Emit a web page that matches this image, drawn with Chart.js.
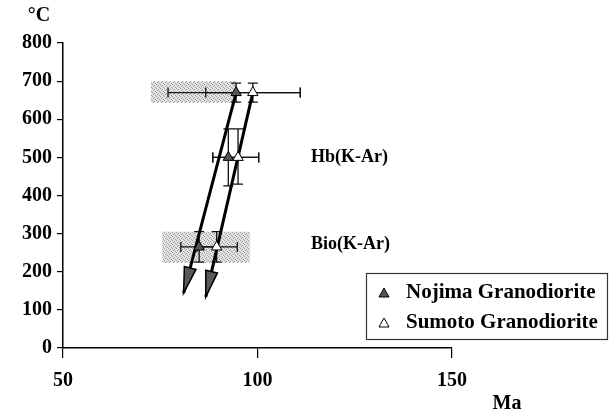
<!DOCTYPE html>
<html>
<head>
<meta charset="utf-8">
<script src="https://cdn.jsdelivr.net/npm/chart.js@4"></script>
<style>
  body { margin: 0; background: #fff; }
  #wrap { width: 614px; height: 415px; }
</style>
</head>
<body>
<div id="wrap"><canvas id="chart" width="614" height="415"></canvas></div>
<script>
// values (Ma, °C)
const nojimaMa = [94.5, 92.5, 85];
const nojimaTemp = [670, 500, 265];
const nojimaMaLo = [77, 88.5, 80.3];
const nojimaMaHi = [111, 100.3, 89.5];
const nojimaTempLo = [645, 425, 225];
const nojimaTempHi = [695, 575, 305];

const sumotoMa = [98.8, 95, 89.5];
const sumotoTemp = [670, 500, 265];
const sumotoMaLo = [86.7, 88.5, 84.5];
const sumotoMaHi = [111, 100.3, 94.8];
const sumotoTempLo = [645, 430, 225];
const sumotoTempHi = [695, 575, 305];

// arrow tips (end of cooling path)
const nojimaTip = [81, 144];
const sumotoTip = [86.7, 134];

// shaded ranges [MaLo, MaHi, TempLo, TempHi]
const topBand = [72.6, 94.5, 643, 700];
const bioBand = [75.5, 98, 223, 305];

const xTicks = [50, 100, 150];
const yTicks = [0, 100, 200, 300, 400, 500, 600, 700, 800];

const serif = '"Liberation Serif", "DejaVu Serif", serif';

function toPoints(xs, ys) {
  return xs.map((x, i) => ({ x: x, y: ys[i] }));
}

// stippled grey like the scanned screen tone
function stipple(ctx) {
  const c = document.createElement('canvas');
  c.width = 4;
  c.height = 4;
  const p = c.getContext('2d');
  p.fillStyle = '#e4e4e4';
  p.fillRect(0, 0, 4, 4);
  p.fillStyle = '#9a9a9a';
  p.fillRect(0, 0, 1, 1);
  p.fillRect(2, 1, 1, 1);
  p.fillRect(1, 2, 1, 1);
  p.fillRect(3, 3, 1, 1);
  return ctx.createPattern(c, 'repeat');
}

const bandsPlugin = {
  id: 'bands',
  beforeDatasetsDraw(chart) {
    const { ctx, scales: { x, y } } = chart;
    ctx.save();
    ctx.fillStyle = stipple(ctx);
    for (const b of [topBand, bioBand]) {
      const x0 = x.getPixelForValue(b[0]);
      const x1 = x.getPixelForValue(b[1]);
      const y0 = y.getPixelForValue(b[3]);
      const y1 = y.getPixelForValue(b[2]);
      ctx.fillRect(x0, y0, x1 - x0, y1 - y0);
    }
    ctx.restore();
  },
};

function drawErrors(ctx, x, y, ma, t, maLo, maHi, tLo, tHi) {
  const cap = 5;
  for (let i = 0; i < ma.length; i++) {
    const px = x.getPixelForValue(ma[i]);
    const py = y.getPixelForValue(t[i]);
    const l = x.getPixelForValue(maLo[i]);
    const r = x.getPixelForValue(maHi[i]);
    const top = y.getPixelForValue(tHi[i]);
    const bot = y.getPixelForValue(tLo[i]);
    ctx.beginPath();
    ctx.moveTo(l, py); ctx.lineTo(r, py);
    ctx.moveTo(l, py - cap); ctx.lineTo(l, py + cap);
    ctx.moveTo(r, py - cap); ctx.lineTo(r, py + cap);
    ctx.moveTo(px, top); ctx.lineTo(px, bot);
    ctx.moveTo(px - cap, top); ctx.lineTo(px + cap, top);
    ctx.moveTo(px - cap, bot); ctx.lineTo(px + cap, bot);
    ctx.stroke();
  }
}

const errorPlugin = {
  id: 'errors',
  beforeDatasetsDraw(chart) {
    const { ctx, scales: { x, y } } = chart;
    ctx.save();
    ctx.strokeStyle = '#111';
    ctx.lineWidth = 1.3;
    drawErrors(ctx, x, y, nojimaMa, nojimaTemp, nojimaMaLo, nojimaMaHi, nojimaTempLo, nojimaTempHi);
    drawErrors(ctx, x, y, sumotoMa, sumotoTemp, sumotoMaLo, sumotoMaHi, sumotoTempLo, sumotoTempHi);
    ctx.restore();
  },
};

const arrowPlugin = {
  id: 'arrows',
  afterDatasetsDraw(chart) {
    const { ctx, scales: { x, y } } = chart;
    ctx.save();
    const paths = [
      [nojimaMa[0], nojimaTemp[0], nojimaTip],
      [sumotoMa[0], sumotoTemp[0], sumotoTip],
    ];
    for (const [ma, t, tip] of paths) {
      const x0 = x.getPixelForValue(ma);
      const y0 = y.getPixelForValue(t);
      const x1 = x.getPixelForValue(tip[0]);
      const y1 = y.getPixelForValue(tip[1]);
      const ang = Math.atan2(y1 - y0, x1 - x0);
      const len = 26;
      const half = 6;
      const bx = x1 - len * Math.cos(ang);
      const by = y1 - len * Math.sin(ang);
      ctx.beginPath();
      ctx.moveTo(x1, y1);
      ctx.lineTo(bx + half * Math.sin(ang), by - half * Math.cos(ang));
      ctx.lineTo(bx - half * Math.sin(ang), by + half * Math.cos(ang));
      ctx.closePath();
      ctx.fillStyle = '#5a5a5a';
      ctx.fill();
      ctx.strokeStyle = '#000';
      ctx.lineWidth = 1.5;
      ctx.stroke();
    }
    ctx.restore();
  },
};

const textPlugin = {
  id: 'texts',
  afterDraw(chart) {
    const { ctx, scales: { y } } = chart;
    ctx.save();
    ctx.fillStyle = '#000';
    ctx.textBaseline = 'middle';
    ctx.font = 'bold 20px ' + serif;
    ctx.textAlign = 'center';
    ctx.fillText('°C', 39, 16);
    ctx.fillText('Ma', 507, 404);

    ctx.font = 'bold 18px ' + serif;
    ctx.textAlign = 'left';
    ctx.fillText('Hb(K-Ar)', 311, y.getPixelForValue(500));
    ctx.fillText('Bio(K-Ar)', 311, y.getPixelForValue(272));

    // legend
    ctx.strokeStyle = '#333';
    ctx.lineWidth = 1.2;
    ctx.strokeRect(366.5, 273.5, 241, 66);
    ctx.font = 'bold 21px ' + serif;
    const rows = [
      ['Nojima Granodiorite', '#555', 293],
      ['Sumoto Granodiorite', '#fff', 323],
    ];
    for (const [label, fill, ry] of rows) {
      ctx.beginPath();
      ctx.moveTo(384, ry - 5);
      ctx.lineTo(389, ry + 4);
      ctx.lineTo(379, ry + 4);
      ctx.closePath();
      ctx.fillStyle = fill;
      ctx.fill();
      ctx.strokeStyle = '#000';
      ctx.lineWidth = 1;
      ctx.stroke();
      ctx.fillStyle = '#000';
      ctx.fillText(label, 406, ry);
    }
    ctx.restore();
  },
};

new Chart(document.getElementById('chart'), {
  type: 'scatter',
  data: {
    datasets: [
      {
        type: 'line',
        data: [{ x: nojimaMa[0], y: nojimaTemp[0] }, { x: nojimaTip[0], y: nojimaTip[1] }],
        borderColor: '#000',
        borderWidth: 3,
        pointRadius: 0,
        order: 2,
      },
      {
        type: 'line',
        data: [{ x: sumotoMa[0], y: sumotoTemp[0] }, { x: sumotoTip[0], y: sumotoTip[1] }],
        borderColor: '#000',
        borderWidth: 3,
        pointRadius: 0,
        order: 2,
      },
      {
        label: 'Nojima Granodiorite',
        data: toPoints(nojimaMa, nojimaTemp),
        pointStyle: 'triangle',
        pointRadius: 6,
        backgroundColor: '#555',
        borderColor: '#000',
        borderWidth: 1,
        order: 1,
      },
      {
        label: 'Sumoto Granodiorite',
        data: toPoints(sumotoMa, sumotoTemp),
        pointStyle: 'triangle',
        pointRadius: 6,
        backgroundColor: '#fff',
        borderColor: '#000',
        borderWidth: 1,
        order: 1,
      },
    ],
  },
  options: {
    responsive: false,
    animation: false,
    events: [],
    layout: { padding: { top: 43, right: 162, left: 0, bottom: 0 } },
    plugins: { legend: { display: false }, tooltip: { enabled: false } },
    scales: {
      x: {
        type: 'linear',
        min: 50,
        max: 150,
        afterBuildTicks: (s) => { s.ticks = xTicks.map((v) => ({ value: v })); },
        afterFit: (s) => { s.height = 67; },
        border: { display: true, color: '#000', width: 1.5 },
        grid: { drawOnChartArea: false, drawTicks: true, tickLength: 10, color: '#000', lineWidth: 1.2 },
        ticks: { color: '#000', padding: 11, font: { family: serif, size: 20, weight: 'bold' } },
      },
      y: {
        type: 'linear',
        min: 0,
        max: 800,
        afterBuildTicks: (s) => { s.ticks = yTicks.map((v) => ({ value: v })); },
        afterFit: (s) => { s.width = 63; },
        border: { display: true, color: '#000', width: 1.5 },
        grid: { drawOnChartArea: false, drawTicks: true, tickLength: 6, color: '#000', lineWidth: 1.2 },
        ticks: { color: '#000', padding: 5, font: { family: serif, size: 20, weight: 'bold' } },
      },
    },
  },
  plugins: [bandsPlugin, errorPlugin, arrowPlugin, textPlugin],
});
</script>
</body>
</html>
